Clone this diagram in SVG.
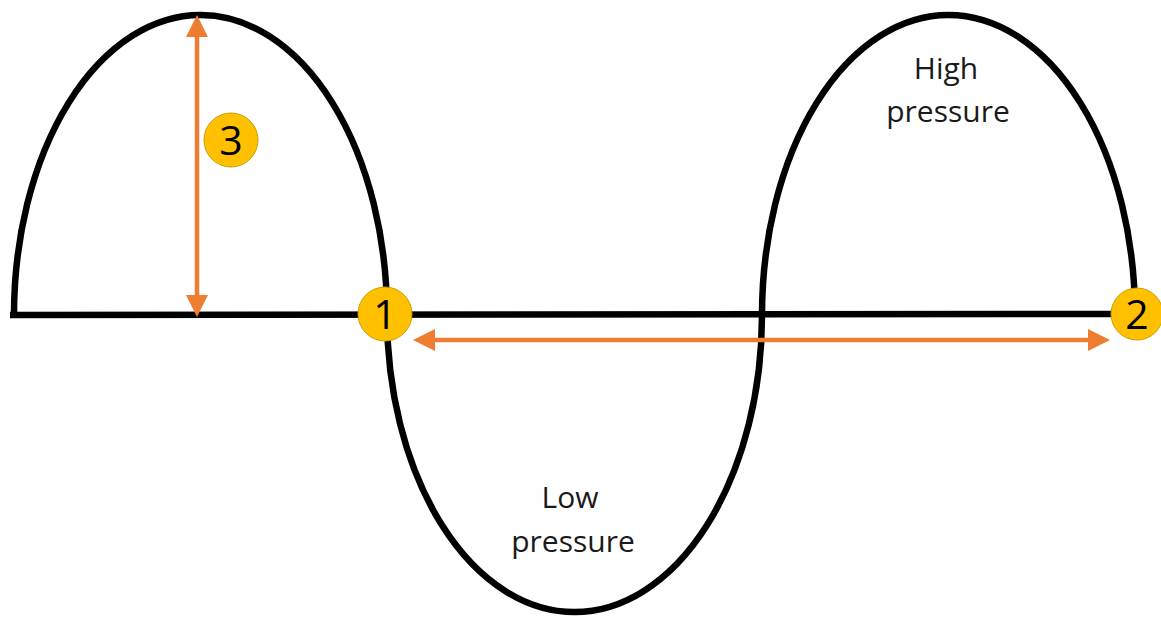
<svg xmlns="http://www.w3.org/2000/svg" width="1161" height="619" viewBox="0 0 1161 619">
<defs>
<style>
.wave{fill:none;stroke:#000;stroke-width:6.5;stroke-linecap:butt}
.arr{fill:none;stroke:#ED7D31;stroke-width:4.5}
.badge{fill:#FFC000;stroke:#C9A000;stroke-width:1}
.num{font-family:"Open Sans","Noto Sans",sans-serif;font-size:41px;fill:#000;text-anchor:middle}
.lbl{font-family:"Open Sans","Noto Sans",sans-serif;font-size:30px;fill:#1a1a1a;text-anchor:middle}
</style>
<marker id="ah" viewBox="0 0 22 22" refX="0" refY="11" markerWidth="22" markerHeight="22" markerUnits="userSpaceOnUse" orient="auto-start-reverse">
<path d="M0,0 L22,11 L0,22 Z" fill="#ED7D31"/>
</marker>
</defs>
<g id="wave">
<path class="wave" d="M10 315 L1135 314"/>
<path class="wave" d="M14 315 A 186.5 300 0 0 1 387 315"/>
<path class="wave" d="M387 315 A 187.5 297 0 0 0 762 315"/>
<path class="wave" d="M762 315 A 186.5 300 0 0 1 1135 315"/>
</g>
<g id="connectors">
<path class="arr" d="M197 37 L197 295" marker-start="url(#ah)" marker-end="url(#ah)"/>
<path class="arr" d="M435 340 L1088 340" marker-start="url(#ah)" marker-end="url(#ah)"/>
</g>
<g id="label-high">
<text class="lbl" x="946" y="79">High</text>
<text class="lbl" x="948" y="122">pressure</text>
</g>
<g id="label-low">
<text class="lbl" x="570" y="508">Low</text>
<text class="lbl" x="573" y="552">pressure</text>
</g>
<g id="badge-1">
<circle class="badge" cx="385" cy="314" r="27"/>
<text class="num" x="385" y="329">1</text>
</g>
<g id="badge-2">
<circle class="badge" cx="1137" cy="314" r="26"/>
<text class="num" x="1137" y="329">2</text>
</g>
<g id="badge-3">
<circle class="badge" cx="231" cy="140" r="27"/>
<text class="num" x="231" y="155">3</text>
</g>
</svg>
